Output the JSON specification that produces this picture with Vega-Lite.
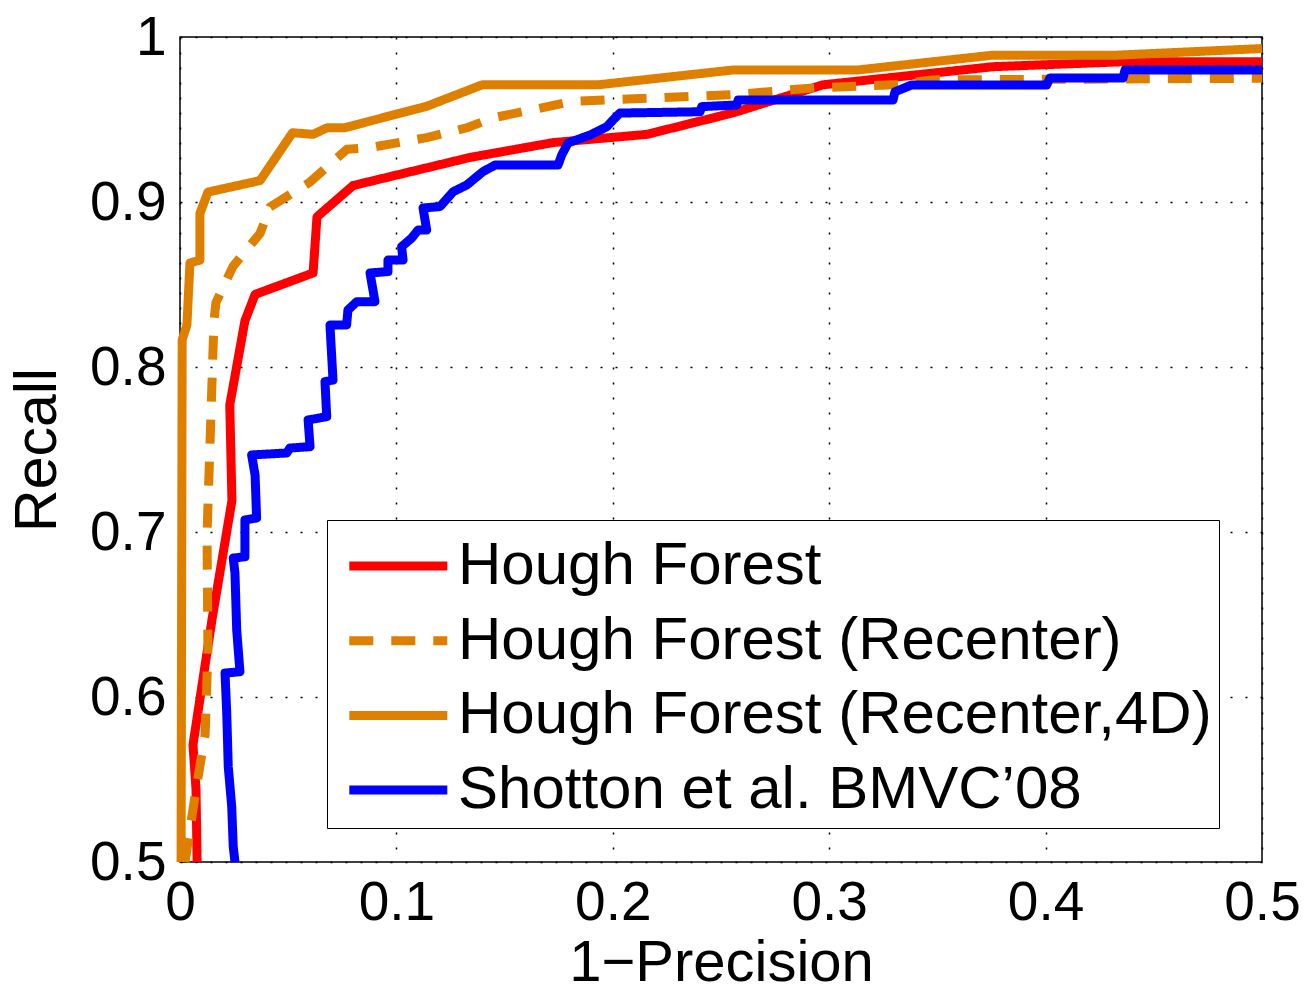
{
  "$schema": "https://vega.github.io/schema/vega-lite/v6.json",
  "autosize": "none",
  "width": 1082,
  "height": 825,
  "padding": {"left": 180, "top": 37, "right": 45, "bottom": 124},
  "background": "white",
  "config": {
    "font": "Liberation Sans",
    "view": {"stroke": "black", "strokeWidth": 1.5},
    "axis": {
      "domain": false,
      "ticks": false,
      "grid": true,
      "gridColor": "black",
      "gridDash": [2, 13],
      "gridWidth": 1.5,
      "gridOpacity": 1,
      "labelFont": "Liberation Sans",
      "labelFontSize": 55,
      "labelColor": "black",
      "labelPadding": 14,
      "labelFlush": false,
      "labelOverlap": false,
      "titleFont": "Liberation Sans",
      "titleFontSize": 58,
      "titleFontWeight": "normal",
      "titleColor": "black"
    },
    "legend": {
      "orient": "none",
      "legendX": 147,
      "legendY": 483,
      "direction": "vertical",
      "strokeColor": "black",
      "fillColor": "white",
      "padding": 7,
      "rowPadding": 14.7,
      "titleFontSize": 1,
      "titlePadding": 8,
      "titleColor": "white",
      "labelFontSize": 60,
      "labelFont": "Liberation Sans",
      "labelColor": "black",
      "labelLimit": 0,
      "labelOffset": 64,
      "symbolType": "M-0.6,0H3.4",
      "symbolSize": 2401,
      "symbolStrokeWidth": 9
    }
  },
  "data": {
    "values": [
      {"s": "Hough Forest", "i": 1, "x": 0.0079, "y": 0.5},
      {"s": "Hough Forest", "i": 2, "x": 0.0074, "y": 0.544},
      {"s": "Hough Forest", "i": 3, "x": 0.006, "y": 0.571},
      {"s": "Hough Forest", "i": 4, "x": 0.0148, "y": 0.647},
      {"s": "Hough Forest", "i": 5, "x": 0.024, "y": 0.719},
      {"s": "Hough Forest", "i": 6, "x": 0.023, "y": 0.777},
      {"s": "Hough Forest", "i": 7, "x": 0.030, "y": 0.828},
      {"s": "Hough Forest", "i": 8, "x": 0.0347, "y": 0.844},
      {"s": "Hough Forest", "i": 9, "x": 0.0615, "y": 0.857},
      {"s": "Hough Forest", "i": 10, "x": 0.0633, "y": 0.891},
      {"s": "Hough Forest", "i": 11, "x": 0.080, "y": 0.910},
      {"s": "Hough Forest", "i": 12, "x": 0.134, "y": 0.927},
      {"s": "Hough Forest", "i": 13, "x": 0.1724, "y": 0.936},
      {"s": "Hough Forest", "i": 14, "x": 0.2158, "y": 0.941},
      {"s": "Hough Forest", "i": 15, "x": 0.2555, "y": 0.954},
      {"s": "Hough Forest", "i": 16, "x": 0.297, "y": 0.971},
      {"s": "Hough Forest", "i": 17, "x": 0.3327, "y": 0.976},
      {"s": "Hough Forest", "i": 18, "x": 0.3757, "y": 0.982},
      {"s": "Hough Forest", "i": 19, "x": 0.4358, "y": 0.985},
      {"s": "Hough Forest", "i": 20, "x": 0.5, "y": 0.985},

      {"s": "Hough Forest (Recenter)", "i": 1, "x": 0.0023, "y": 0.5},
      {"s": "Hough Forest (Recenter)", "i": 2, "x": 0.0074, "y": 0.544},
      {"s": "Hough Forest (Recenter)", "i": 3, "x": 0.0116, "y": 0.577},
      {"s": "Hough Forest (Recenter)", "i": 4, "x": 0.0129, "y": 0.628},
      {"s": "Hough Forest (Recenter)", "i": 5, "x": 0.0125, "y": 0.699},
      {"s": "Hough Forest (Recenter)", "i": 6, "x": 0.0143, "y": 0.771},
      {"s": "Hough Forest (Recenter)", "i": 7, "x": 0.0157, "y": 0.828},
      {"s": "Hough Forest (Recenter)", "i": 8, "x": 0.0166, "y": 0.839},
      {"s": "Hough Forest (Recenter)", "i": 9, "x": 0.0245, "y": 0.861},
      {"s": "Hough Forest (Recenter)", "i": 10, "x": 0.037, "y": 0.881},
      {"s": "Hough Forest (Recenter)", "i": 11, "x": 0.0416, "y": 0.897},
      {"s": "Hough Forest (Recenter)", "i": 12, "x": 0.060, "y": 0.912},
      {"s": "Hough Forest (Recenter)", "i": 13, "x": 0.0772, "y": 0.932},
      {"s": "Hough Forest (Recenter)", "i": 14, "x": 0.0878, "y": 0.933},
      {"s": "Hough Forest (Recenter)", "i": 15, "x": 0.114, "y": 0.939},
      {"s": "Hough Forest (Recenter)", "i": 16, "x": 0.1326, "y": 0.945},
      {"s": "Hough Forest (Recenter)", "i": 17, "x": 0.1446, "y": 0.951},
      {"s": "Hough Forest (Recenter)", "i": 18, "x": 0.1816, "y": 0.961},
      {"s": "Hough Forest (Recenter)", "i": 19, "x": 0.200, "y": 0.962},
      {"s": "Hough Forest (Recenter)", "i": 20, "x": 0.2555, "y": 0.965},
      {"s": "Hough Forest (Recenter)", "i": 21, "x": 0.291, "y": 0.969},
      {"s": "Hough Forest (Recenter)", "i": 22, "x": 0.3295, "y": 0.971},
      {"s": "Hough Forest (Recenter)", "i": 23, "x": 0.348, "y": 0.974},
      {"s": "Hough Forest (Recenter)", "i": 24, "x": 0.5, "y": 0.975},

      {"s": "Hough Forest (Recenter,4D)", "i": 1, "x": 0.0005, "y": 0.5},
      {"s": "Hough Forest (Recenter,4D)", "i": 2, "x": 0.001, "y": 0.8164},
      {"s": "Hough Forest (Recenter,4D)", "i": 3, "x": 0.0032, "y": 0.8255},
      {"s": "Hough Forest (Recenter,4D)", "i": 4, "x": 0.0046, "y": 0.863},
      {"s": "Hough Forest (Recenter,4D)", "i": 5, "x": 0.0092, "y": 0.8648},
      {"s": "Hough Forest (Recenter,4D)", "i": 6, "x": 0.0092, "y": 0.893},
      {"s": "Hough Forest (Recenter,4D)", "i": 7, "x": 0.0129, "y": 0.906},
      {"s": "Hough Forest (Recenter,4D)", "i": 8, "x": 0.037, "y": 0.913},
      {"s": "Hough Forest (Recenter,4D)", "i": 9, "x": 0.052, "y": 0.942},
      {"s": "Hough Forest (Recenter,4D)", "i": 10, "x": 0.0615, "y": 0.941},
      {"s": "Hough Forest (Recenter,4D)", "i": 11, "x": 0.068, "y": 0.945},
      {"s": "Hough Forest (Recenter,4D)", "i": 12, "x": 0.076, "y": 0.945},
      {"s": "Hough Forest (Recenter,4D)", "i": 13, "x": 0.114, "y": 0.958},
      {"s": "Hough Forest (Recenter,4D)", "i": 14, "x": 0.1396, "y": 0.971},
      {"s": "Hough Forest (Recenter,4D)", "i": 15, "x": 0.193, "y": 0.971},
      {"s": "Hough Forest (Recenter,4D)", "i": 16, "x": 0.2555, "y": 0.980},
      {"s": "Hough Forest (Recenter,4D)", "i": 17, "x": 0.313, "y": 0.980},
      {"s": "Hough Forest (Recenter,4D)", "i": 18, "x": 0.3757, "y": 0.989},
      {"s": "Hough Forest (Recenter,4D)", "i": 19, "x": 0.433, "y": 0.989},
      {"s": "Hough Forest (Recenter,4D)", "i": 20, "x": 0.5, "y": 0.993},

      {"s": "Shotton et al. BMVC’08", "i": 1, "x": 0.0254, "y": 0.5},
      {"s": "Shotton et al. BMVC’08", "i": 2, "x": 0.0246, "y": 0.5093},
      {"s": "Shotton et al. BMVC’08", "i": 3, "x": 0.0239, "y": 0.5335},
      {"s": "Shotton et al. BMVC’08", "i": 4, "x": 0.0223, "y": 0.5578},
      {"s": "Shotton et al. BMVC’08", "i": 5, "x": 0.0216, "y": 0.5903},
      {"s": "Shotton et al. BMVC’08", "i": 6, "x": 0.0208, "y": 0.6145},
      {"s": "Shotton et al. BMVC’08", "i": 7, "x": 0.0277, "y": 0.6153},
      {"s": "Shotton et al. BMVC’08", "i": 8, "x": 0.0262, "y": 0.6406},
      {"s": "Shotton et al. BMVC’08", "i": 9, "x": 0.0254, "y": 0.6752},
      {"s": "Shotton et al. BMVC’08", "i": 10, "x": 0.0246, "y": 0.6842},
      {"s": "Shotton et al. BMVC’08", "i": 11, "x": 0.0300, "y": 0.6850},
      {"s": "Shotton et al. BMVC’08", "i": 12, "x": 0.0300, "y": 0.7073},
      {"s": "Shotton et al. BMVC’08", "i": 13, "x": 0.0354, "y": 0.7085},
      {"s": "Shotton et al. BMVC’08", "i": 14, "x": 0.0347, "y": 0.7345},
      {"s": "Shotton et al. BMVC’08", "i": 15, "x": 0.0331, "y": 0.7467},
      {"s": "Shotton et al. BMVC’08", "i": 16, "x": 0.0493, "y": 0.7479},
      {"s": "Shotton et al. BMVC’08", "i": 17, "x": 0.0508, "y": 0.7509},
      {"s": "Shotton et al. BMVC’08", "i": 18, "x": 0.0601, "y": 0.7517},
      {"s": "Shotton et al. BMVC’08", "i": 19, "x": 0.0592, "y": 0.7679},
      {"s": "Shotton et al. BMVC’08", "i": 20, "x": 0.0678, "y": 0.7699},
      {"s": "Shotton et al. BMVC’08", "i": 21, "x": 0.0670, "y": 0.7911},
      {"s": "Shotton et al. BMVC’08", "i": 22, "x": 0.0707, "y": 0.7921},
      {"s": "Shotton et al. BMVC’08", "i": 23, "x": 0.0693, "y": 0.8255},
      {"s": "Shotton et al. BMVC’08", "i": 24, "x": 0.0770, "y": 0.8255},
      {"s": "Shotton et al. BMVC’08", "i": 25, "x": 0.0776, "y": 0.8345},
      {"s": "Shotton et al. BMVC’08", "i": 26, "x": 0.0817, "y": 0.8396},
      {"s": "Shotton et al. BMVC’08", "i": 27, "x": 0.0901, "y": 0.8396},
      {"s": "Shotton et al. BMVC’08", "i": 28, "x": 0.0878, "y": 0.8570},
      {"s": "Shotton et al. BMVC’08", "i": 29, "x": 0.0961, "y": 0.8578},
      {"s": "Shotton et al. BMVC’08", "i": 30, "x": 0.0961, "y": 0.8648},
      {"s": "Shotton et al. BMVC’08", "i": 31, "x": 0.1031, "y": 0.8648},
      {"s": "Shotton et al. BMVC’08", "i": 32, "x": 0.1024, "y": 0.8729},
      {"s": "Shotton et al. BMVC’08", "i": 33, "x": 0.1071, "y": 0.8782},
      {"s": "Shotton et al. BMVC’08", "i": 34, "x": 0.1100, "y": 0.8830},
      {"s": "Shotton et al. BMVC’08", "i": 35, "x": 0.1140, "y": 0.8830},
      {"s": "Shotton et al. BMVC’08", "i": 36, "x": 0.1123, "y": 0.8964},
      {"s": "Shotton et al. BMVC’08", "i": 37, "x": 0.1201, "y": 0.8972},
      {"s": "Shotton et al. BMVC’08", "i": 38, "x": 0.1262, "y": 0.9062},
      {"s": "Shotton et al. BMVC’08", "i": 39, "x": 0.1325, "y": 0.9103},
      {"s": "Shotton et al. BMVC’08", "i": 40, "x": 0.1400, "y": 0.9184},
      {"s": "Shotton et al. BMVC’08", "i": 41, "x": 0.1456, "y": 0.9224},
      {"s": "Shotton et al. BMVC’08", "i": 42, "x": 0.1747, "y": 0.9224},
      {"s": "Shotton et al. BMVC’08", "i": 43, "x": 0.1764, "y": 0.9285},
      {"s": "Shotton et al. BMVC’08", "i": 44, "x": 0.1793, "y": 0.9358},
      {"s": "Shotton et al. BMVC’08", "i": 45, "x": 0.1895, "y": 0.9406},
      {"s": "Shotton et al. BMVC’08", "i": 46, "x": 0.1972, "y": 0.9456},
      {"s": "Shotton et al. BMVC’08", "i": 47, "x": 0.2001, "y": 0.9497},
      {"s": "Shotton et al. BMVC’08", "i": 48, "x": 0.2033, "y": 0.9539},
      {"s": "Shotton et al. BMVC’08", "i": 49, "x": 0.2403, "y": 0.9547},
      {"s": "Shotton et al. BMVC’08", "i": 50, "x": 0.2411, "y": 0.9578},
      {"s": "Shotton et al. BMVC’08", "i": 51, "x": 0.2573, "y": 0.9588},
      {"s": "Shotton et al. BMVC’08", "i": 52, "x": 0.2579, "y": 0.9618},
      {"s": "Shotton et al. BMVC’08", "i": 53, "x": 0.3295, "y": 0.9618},
      {"s": "Shotton et al. BMVC’08", "i": 54, "x": 0.3304, "y": 0.9668},
      {"s": "Shotton et al. BMVC’08", "i": 55, "x": 0.3381, "y": 0.9709},
      {"s": "Shotton et al. BMVC’08", "i": 56, "x": 0.4005, "y": 0.9709},
      {"s": "Shotton et al. BMVC’08", "i": 57, "x": 0.4020, "y": 0.9752},
      {"s": "Shotton et al. BMVC’08", "i": 58, "x": 0.4358, "y": 0.9752},
      {"s": "Shotton et al. BMVC’08", "i": 59, "x": 0.4367, "y": 0.9800},
      {"s": "Shotton et al. BMVC’08", "i": 60, "x": 0.5, "y": 0.9800}
    ]
  },
  "mark": {"type": "line", "strokeWidth": 9, "strokeJoin": "round", "strokeCap": "butt", "clip": false},
  "encoding": {
    "x": {
      "field": "x",
      "type": "quantitative",
      "scale": {"domain": [0, 0.5], "nice": false, "zero": false},
      "axis": {"values": [0, 0.1, 0.2, 0.3, 0.4, 0.5], "format": "~g", "title": "1−Precision", "titlePadding": 4}
    },
    "y": {
      "field": "y",
      "type": "quantitative",
      "scale": {"domain": [0.5, 1], "nice": false, "zero": false},
      "axis": {"values": [0.5, 0.6, 0.7, 0.8, 0.9, 1], "format": "~g", "title": "Recall", "titleFontSize": 59, "titlePadding": 22}
    },
    "order": {"field": "i", "type": "quantitative"},
    "color": {
      "field": "s",
      "type": "nominal",
      "scale": {
        "domain": ["Hough Forest", "Hough Forest (Recenter)", "Hough Forest (Recenter,4D)", "Shotton et al. BMVC’08"],
        "range": ["#ff0000", "#df7f00", "#df7f00", "#0000ff"]
      },
      "legend": {"title": " "}
    },
    "strokeDash": {
      "field": "s",
      "type": "nominal",
      "scale": {
        "domain": ["Hough Forest", "Hough Forest (Recenter)", "Hough Forest (Recenter,4D)", "Shotton et al. BMVC’08"],
        "range": [[1, 0], [24, 18], [1, 0], [1, 0]]
      },
      "legend": {"title": " "}
    }
  }
}
